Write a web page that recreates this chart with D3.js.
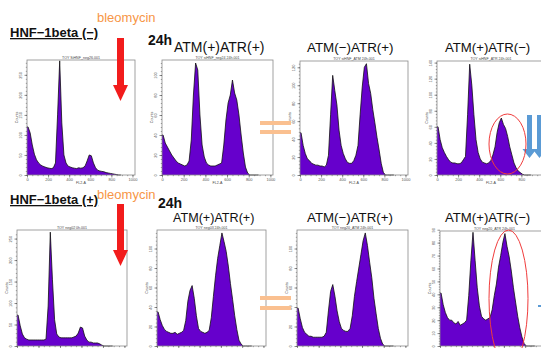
<!DOCTYPE html>
<html>
<head>
<meta charset="utf-8">
<script src="https://cdn.jsdelivr.net/npm/d3@7"></script>
<style>
  body { margin: 0; background: #fff; }
  svg { display: block; font-family: "Liberation Sans", Arial, sans-serif; }
</style>
</head>
<body>
<svg width="541" height="348"></svg>
<script>
// FL2-A channel bins (lower edge), 20 channels each
const fl2Bins = [0,20,40,60,80,100,120,140,160,180,200,220,240,260,280,300,320,340,360,380,
  400,420,440,460,480,500,520,540,560,580,600,620,640,660,680,700,720,740,760,780,800,820,840,860,880];

// counts per bin
const negCtrl0h   = [120,105,75,52,38,30,25,22,20,18, 17,16,18,30,150,285,130,50,30,22, 20,18,17,16,18,17,18,22,35,50, 48,30,18,12,10,9,8,6,5,4, 3,2,1,0,0];
const negCtrl24h  = [40,32,28,24,20,17,14,12,11,10, 9,10,14,35,80,112,105,60,30,18, 12,10,9,9,9,10,11,12,30,55, 72,80,95,82,75,60,40,22,8,2, 0,0,0,0,0];
const negAtm24h   = [47,33,24,18,16,13,12,11,11,10, 10,9,11,22,67,111,94,78,50,33, 24,18,14,13,13,16,22,33,67,98, 120,124,102,91,73,58,42,28,13,3, 0,0,0,0,0];
const negAtr24h   = [60,44,34,28,23,19,16,15,15,14, 14,15,19,23,75,138,112,75,44,28, 20,16,15,14,15,18,25,35,53,65, 71,63,58,48,35,25,15,9,5,3, 1,0,0,0,0];
const posCtrl0h   = [72,47,28,19,16,14,14,14,14,14, 14,14,14,16,93,265,154,61,28,21, 19,19,19,19,19,19,21,23,30,44, 42,23,14,9,9,7,7,7,5,2, 0,0,0,0,0];
const posCtrl24h  = [35,27,21,17,15,14,13,13,14,12, 13,14,16,26,46,57,62,49,31,18, 15,14,13,14,16,29,51,72,90,103, 116,107,97,82,64,48,31,17,6,2, 0,0,0,0,0];
const posAtm24h   = [39,28,19,14,12,10,10,9,9,9, 9,9,10,14,36,56,63,51,36,25, 18,16,15,15,18,31,51,66,80,94, 108,116,103,86,70,49,33,18,8,2, 0,0,0,0,0];
const posAtr24h   = [41,32,26,22,20,20,18,17,19,16, 17,18,20,39,66,88,66,45,31,23, 21,20,21,22,28,39,48,61,70,80, 87,77,69,58,45,34,23,14,7,2, 0,0,0,0,0];

const xTicks = [0,200,400,600,800,1000];
const yTicks50 = [0,50,100,150,200,250];
const yTicks100 = [0,20,40,60,80,100];
const yTicks120 = [0,20,40,60,80,100,120];
const yTicks140 = [0,20,40,60,80,100,120,140];
const yTicks90 = [0,10,20,30,40,50,60,70,80,90];

const fileNames = ["TOY SiHNF_neg26.001", "TOY siHNF_neg24 24h.001", "TOY siHNF_ATM 24h.001", "TOY siHNF_ATR 24h.001",
  "TOY neg02 0h.001", "TOY neg03 24h.001", "TOY neg20_ATM 24h.001", "TOY neg20_ATR 24h.001"];

const rowLabels = ["HNF\u22121beta (\u2212)", "HNF\u22121beta (+)"];
const condLabels = ["ATM(+)ATR(+)", "ATM(\u2212)ATR(+)", "ATM(+)ATR(\u2212)"];

// layout of the eight plot frames
const panels = [
  {data: negCtrl0h,  ticks: yTicks50,  yMax: 287, x0: 27,  x1: 135, y0: 60,  y1: 175, xLabels: true},
  {data: negCtrl24h, ticks: yTicks100, yMax: 115, x0: 162, x1: 273, y0: 60,  y1: 175, xLabels: true},
  {data: negAtm24h,  ticks: yTicks120, yMax: 127, x0: 300, x1: 408, y0: 61,  y1: 175, xLabels: true},
  {data: negAtr24h,  ticks: yTicks140, yMax: 142, x0: 437, x1: 545, y0: 61,  y1: 175, xLabels: true},
  {data: posCtrl0h,  ticks: yTicks50,  yMax: 270, x0: 17,  x1: 127, y0: 230, y1: 346, xLabels: false},
  {data: posCtrl24h, ticks: yTicks100, yMax: 119, x0: 157, x1: 266, y0: 230, y1: 346, xLabels: false},
  {data: posAtm24h,  ticks: yTicks100, yMax: 119, x0: 297, x1: 408, y0: 230, y1: 346, xLabels: false},
  {data: posAtr24h,  ticks: yTicks90,  yMax: 89,  x0: 440, x1: 549, y0: 231, y1: 346, xLabels: false}
];

const svg = d3.select("svg");

panels.forEach(function (p, i) {
  let g = svg.append("g");
  let x = d3.scaleLinear().domain([0, 1024]).range([p.x0, p.x1]);
  let y = d3.scaleLinear().domain([0, p.yMax]).range([p.y1, p.y0]);

  let pts = [[0, p.data[0]]].concat(fl2Bins.map((b, k) => [b + 10, p.data[k]]));

  g.append("path")
    .datum(pts)
    .attr("fill", "#6600cc")
    .attr("d", d3.area().x(d => x(d[0])).y0(y(0)).y1(d => y(d[1])));

  g.append("path")
    .datum(pts)
    .attr("fill", "none")
    .attr("stroke", "#111")
    .attr("stroke-width", 0.8)
    .attr("d", d3.line().x(d => x(d[0])).y(d => y(d[1])));

  g.append("rect")
    .attr("x", p.x0).attr("y", p.y0)
    .attr("width", p.x1 - p.x0).attr("height", p.y1 - p.y0)
    .attr("fill", "none").attr("stroke", "#8a8a8a").attr("stroke-width", 0.8);

  // minor ticks
  let step = p.ticks[1] - p.ticks[0];
  let yMinor = d3.range(0, p.yMax, step / 5);
  g.append("g").attr("transform", "translate(" + p.x0 + ",0)")
    .call(d3.axisLeft(y).tickValues(yMinor).tickSize(1.2).tickFormat(""))
    .call(a => a.select(".domain").remove())
    .selectAll("line").attr("stroke", "#555").attr("stroke-width", 0.5);
  g.append("g").attr("transform", "translate(0," + p.y1 + ")")
    .call(d3.axisBottom(x).tickValues(d3.range(0, 1001, 50)).tickSize(1.2).tickFormat(""))
    .call(a => a.select(".domain").remove())
    .selectAll("line").attr("stroke", "#555").attr("stroke-width", 0.5);

  let ya = g.append("g").attr("transform", "translate(" + p.x0 + ",0)")
    .call(d3.axisLeft(y).tickValues(p.ticks).tickSize(2.5).tickPadding(1));
  ya.select(".domain").remove();
  ya.selectAll("line").attr("stroke", "#444").attr("stroke-width", 0.6);
  ya.selectAll("text")
    .attr("font-size", 4).attr("fill", "#555")
    .attr("text-anchor", "middle").attr("dy", 0).attr("x", 0)
    .attr("transform", "translate(-5,0) rotate(-90)");

  // the last panel's frame runs past the page edge, so its far tick labels are hidden
  let shownX = xTicks.filter(t => x(t) < 538);
  let xa = g.append("g").attr("transform", "translate(0," + p.y1 + ")")
    .call(d3.axisBottom(x).tickValues(xTicks).tickSize(2.5).tickPadding(1)
      .tickFormat(t => shownX.includes(t) ? t : ""));
  xa.select(".domain").remove();
  xa.selectAll("line").attr("stroke", "#444").attr("stroke-width", 0.6);
  xa.selectAll("text").attr("font-size", 4).attr("fill", "#555").attr("dy", "0.5em");
  if (!p.xLabels) xa.selectAll("text").remove();

  g.append("text")
    .attr("x", (p.x0 + p.x1) / 2).attr("y", p.y0 - 1.5)
    .attr("text-anchor", "middle").attr("font-size", 3.6).attr("fill", "#444")
    .text(fileNames[i]);

  g.append("text")
    .attr("transform", "translate(" + (p.x0 - 9) + "," + ((p.y0 + p.y1) / 2) + ") rotate(-90)")
    .attr("text-anchor", "middle").attr("font-size", 3.6).attr("fill", "#444")
    .text("Counts");

  if (p.xLabels) {
    g.append("text")
      .attr("x", (p.x0 + p.x1) / 2).attr("y", p.y1 + 9)
      .attr("text-anchor", "middle").attr("font-size", 3.6).attr("fill", "#444")
      .text("FL2-A");
  }
});

// row headings
let rows = [{y: 37, orange: 22, h24: 45, cond: 52}, {y: 204, orange: 199, h24: 208, cond: 222}];
rows.forEach(function (r, i) {
  svg.append("text").attr("x", 10).attr("y", r.y)
    .attr("font-size", 13).attr("font-weight", "bold").attr("fill", "#111")
    .attr("text-decoration", "underline")
    .text(rowLabels[i]);
  svg.append("text").attr("x", 97).attr("y", r.orange)
    .attr("font-size", 13).attr("fill", "#f79646")
    .text("bleomycin");
  svg.append("text").attr("x", i === 0 ? 148 : 158).attr("y", r.h24)
    .attr("font-size", 14).attr("font-weight", "bold").attr("fill", "#111")
    .text("24h");
  let condX = i === 0 ? [174, 307, 445] : [173, 307, 445];
  let condSize = i === 0 ? [14, 13.4, 13.2] : [12.6, 13.3, 13.2];
  condLabels.forEach(function (c, k) {
    svg.append("text").attr("x", condX[k]).attr("y", r.cond)
      .attr("font-size", condSize[k]).attr("fill", "#111")
      .text(c);
  });
});

// red bleomycin arrows
function downArrow(cx, top, shaftW, headW, headTop, tip, color) {
  svg.append("path")
    .attr("d", "M" + (cx - shaftW / 2) + "," + top + "H" + (cx + shaftW / 2) + "V" + headTop +
      "H" + (cx + headW / 2) + "L" + cx + "," + tip + "L" + (cx - headW / 2) + "," + headTop +
      "H" + (cx - shaftW / 2) + "Z")
    .attr("fill", color);
}
downArrow(120.5, 38, 7, 15, 85, 101, "#f21c1c");
downArrow(120.5, 204, 7, 15, 250, 266, "#f21c1c");

// blue arrows at right edge
downArrow(529.5, 115, 5, 14, 149, 158, "#5b9bd5");
downArrow(539.5, 115, 5, 14, 149, 158, "#5b9bd5");
svg.append("rect").attr("x", 538).attr("y", 305).attr("width", 3).attr("height", 2).attr("fill", "#5b9bd5");

// "=" marks between panels
[[121, 130], [296, 306]].forEach(function (ys) {
  ys.forEach(function (yy) {
    svg.append("rect").attr("x", 260).attr("y", yy).attr("width", 31).attr("height", 4).attr("fill", "#fac090");
  });
});

// red ellipses around the G2 peaks
svg.append("ellipse").attr("cx", 507.5).attr("cy", 144).attr("rx", 18.5).attr("ry", 30)
  .attr("fill", "none").attr("stroke", "#f03c3c").attr("stroke-width", 1);
svg.append("ellipse").attr("cx", 508.5).attr("cy", 298.5).attr("rx", 19.5).attr("ry", 68.5)
  .attr("fill", "none").attr("stroke", "#f03c3c").attr("stroke-width", 1);
</script>
</body>
</html>
